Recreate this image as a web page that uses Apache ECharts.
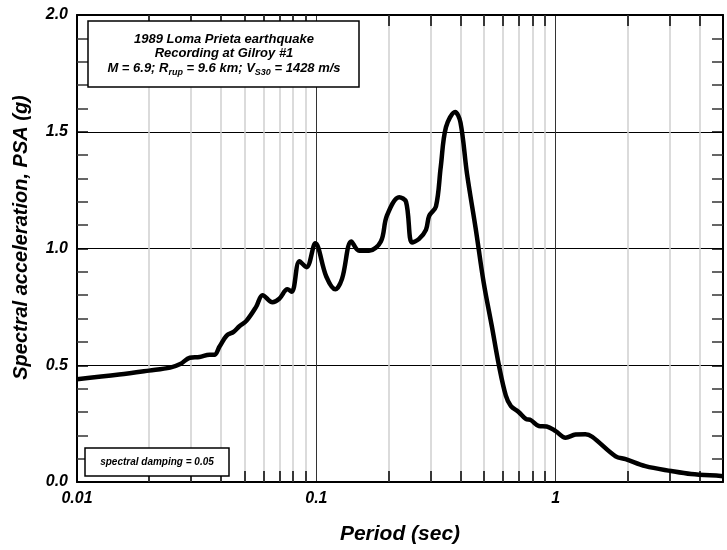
<!DOCTYPE html>
<html>
<head>
<meta charset="utf-8">
<script src="https://cdn.jsdelivr.net/npm/echarts@6/dist/echarts.min.js"></script>
<style>
html,body{margin:0;padding:0;background:#fff;}
#chart{width:727px;height:550px;}
</style>
</head>
<body>
<div id="chart"></div>
<script>
// ---- data ----
const periods = [0.01, 0.015, 0.02, 0.0245, 0.027, 0.0296, 0.0325, 0.0358, 0.0375, 0.0394, 0.0422, 0.0451, 0.0477, 0.051, 0.056, 0.0596, 0.0656, 0.07, 0.0757, 0.079, 0.085, 0.091, 0.099, 0.11, 0.12, 0.128, 0.14, 0.151, 0.166, 0.186, 0.197, 0.222, 0.237, 0.251, 0.268, 0.287, 0.296, 0.316, 0.331, 0.348, 0.38, 0.40, 0.426, 0.464, 0.50, 0.541, 0.579, 0.619, 0.65, 0.70, 0.75, 0.787, 0.85, 0.917, 1.0, 1.1, 1.21, 1.33, 1.42, 1.78, 1.96, 2.37, 3.04, 3.68, 4.9, 5.0];
const psa = [0.44, 0.46, 0.477, 0.49, 0.505, 0.532, 0.535, 0.545, 0.545, 0.58, 0.627, 0.643, 0.667, 0.69, 0.75, 0.80, 0.77, 0.785, 0.825, 0.815, 0.945, 0.92, 1.022, 0.88, 0.825, 0.87, 1.03, 0.99, 0.99, 1.03, 1.14, 1.22, 1.20, 1.026, 1.04, 1.08, 1.14, 1.18, 1.35, 1.52, 1.585, 1.54, 1.32, 1.08, 0.855, 0.667, 0.50, 0.37, 0.325, 0.30, 0.27, 0.265, 0.24, 0.238, 0.218, 0.19, 0.203, 0.205, 0.194, 0.11, 0.098, 0.068, 0.047, 0.034, 0.026, 0.025];
const minorPeriods = [0.02, 0.03, 0.04, 0.05, 0.06, 0.07, 0.08, 0.09, 0.2, 0.3, 0.4, 0.5, 0.6, 0.7, 0.8, 0.9, 2, 3, 4];
const xTickLabels = {'-2': '0.01', '-1': '0.1', '0': '1'};
const yTickValues = [0, 0.5, 1.0, 1.5, 2.0];
const titleLines = ['1989 Loma Prieta earthquake', 'Recording at Gilroy #1'];
const dampingText = 'spectral damping = 0.05';

const FONT = "'Liberation Sans', Arial, sans-serif";
const chart = echarts.init(document.getElementById('chart'), null, {renderer: 'canvas'});

const tickLen = 0.047; // in PSA units (~11px)
const markData = [];
minorPeriods.forEach(v => {
  markData.push({xAxis: v, lineStyle: {color: '#cfcfcf', width: 1.5, type: 'solid'}});
});
minorPeriods.forEach(v => {
  markData.push([{coord: [v, 0], lineStyle: {color: '#000', width: 1.5, type: 'solid'}}, {coord: [v, tickLen]}]);
  markData.push([{coord: [v, 2], lineStyle: {color: '#000', width: 1.5, type: 'solid'}}, {coord: [v, 2 - tickLen]}]);
});

const xLabelFmt = v => {
  const l = Math.round(Math.log10(v) * 1e6) / 1e6;
  return Number.isInteger(l) && xTickLabels[String(l)] !== undefined ? xTickLabels[String(l)] : '';
};

const yAxisBase = {
  type: 'value', min: 0, max: 2, interval: 0.5,
  axisLine: {show: true, onZero: false, lineStyle: {color: '#000', width: 2}},
  axisTick: {show: true, inside: true, length: 11, lineStyle: {color: '#000', width: 1.5}},
  minorTick: {show: true, splitNumber: 5, length: 11, lineStyle: {color: '#333', width: 1.5}},
};

const option = {
  animation: false,
  backgroundColor: '#fff',
  grid: {left: 77, right: 4, top: 15, bottom: 67, containLabel: false},
  xAxis: [{
    type: 'log', logBase: 10, min: 0.01, max: 5,
    name: 'Period (sec)', nameLocation: 'middle', nameGap: 42,
    nameTextStyle: {fontFamily: FONT, fontSize: 21, fontWeight: 'bold', fontStyle: 'italic', color: '#000'},
    axisLine: {show: true, onZero: false, lineStyle: {color: '#000', width: 2}},
    axisTick: {show: false},
    axisLabel: {formatter: xLabelFmt, margin: 9, fontFamily: FONT, fontSize: 16, fontWeight: 'bold', fontStyle: 'italic', color: '#000', showMinLabel: true, showMaxLabel: true},
    splitLine: {show: true, lineStyle: {color: '#333', width: 1}},
  }, {
    type: 'log', logBase: 10, min: 0.01, max: 5, position: 'top',
    axisLine: {show: true, onZero: false, lineStyle: {color: '#000', width: 2}},
    axisTick: {show: false}, axisLabel: {show: false}, splitLine: {show: false},
  }],
  yAxis: [Object.assign({}, yAxisBase, {
    position: 'left',
    name: 'Spectral acceleration, PSA (g)', nameLocation: 'middle', nameGap: 46,
    nameTextStyle: {fontFamily: FONT, fontSize: 20, fontWeight: 'bold', fontStyle: 'italic', color: '#000', padding: [0, 0, 0, 22]},
    axisLabel: {formatter: v => v.toFixed(1), margin: 9, fontFamily: FONT, fontSize: 16, fontWeight: 'bold', fontStyle: 'italic', color: '#000'},
    splitLine: {show: true, lineStyle: {color: '#000', width: 1}},
  }), Object.assign({}, yAxisBase, {
    position: 'right', axisLabel: {show: false}, splitLine: {show: false},
  })],
  series: [{
    type: 'line', xAxisIndex: 0, yAxisIndex: 0, data: [], z: 1, silent: true,
    markLine: {silent: true, symbol: 'none', label: {show: false}, animation: false, data: markData},
  }, {
    type: 'line', xAxisIndex: 0, yAxisIndex: 0, z: 5,
    data: periods.map((p, i) => [p, psa[i]]),
    showSymbol: false, smooth: 0.35,
    lineStyle: {color: '#000', width: 4.5},
  }],
  graphic: [
    {type: 'rect', z: 100, shape: {x: 88, y: 21, width: 271, height: 66}, style: {fill: '#fff', stroke: '#000', lineWidth: 1.5}},
    {type: 'text', z: 101, x: 224, y: 39, style: {text: titleLines[0], font: 'italic bold 13px ' + FONT, fill: '#000', align: 'center', verticalAlign: 'middle'}},
    {type: 'text', z: 101, x: 224, y: 53, style: {text: titleLines[1], font: 'italic bold 13px ' + FONT, fill: '#000', align: 'center', verticalAlign: 'middle'}},
    {type: 'text', z: 101, x: 224, y: 68, style: {
      text: '{m|M = 6.9; R}{s|rup}{m| = 9.6 km; V}{s|S30}{m| = 1428 m/s}',
      align: 'center', verticalAlign: 'middle',
      rich: {
        m: {font: 'italic bold 13px ' + FONT, fill: '#000', lineHeight: 20},
        s: {font: 'italic bold 9px ' + FONT, fill: '#000', lineHeight: 10, padding: [10, 0, 0, 0]}
      }
    }},
    {type: 'rect', z: 100, shape: {x: 85, y: 448, width: 144, height: 28}, style: {fill: '#fff', stroke: '#000', lineWidth: 1.5}},
    {type: 'text', z: 101, x: 157, y: 462, style: {text: dampingText, font: 'italic bold 10px ' + FONT, fill: '#000', align: 'center', verticalAlign: 'middle'}},
  ]
};
chart.setOption(option);
</script>
</body>
</html>
